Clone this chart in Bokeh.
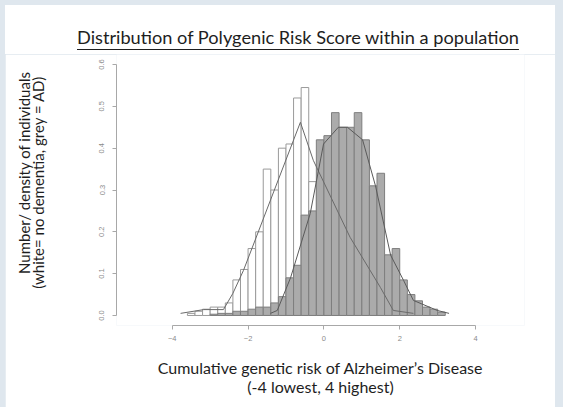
from bokeh.plotting import figure
from bokeh.layouts import column
from bokeh.models import Range1d, FixedTicker, Div
from bokeh.embed import file_html
from bokeh.resources import INLINE

# ---------------- data ----------------
bin_width = 0.2

# no dementia (white histogram): left bin edges and densities
white_left = [-3.6, -3.4, -3.2, -3.0, -2.8, -2.6, -2.4, -2.2, -2.0, -1.8,
              -1.6, -1.4, -1.2, -1.0, -0.8, -0.6, -0.4, -0.2, 0.0, 0.2,
              0.4, 0.6, 0.8, 1.0, 1.2, 1.4, 1.6, 1.8, 2.0, 2.2]
white_density = [0.005, 0.01, 0.015, 0.02, 0.02, 0.03, 0.085, 0.11, 0.16, 0.20,
                 0.35, 0.30, 0.40, 0.41, 0.52, 0.545, 0.32, 0.25, 0.24, 0.20,
                 0.17, 0.14, 0.10, 0.08, 0.05, 0.04, 0.025, 0.015, 0.01, 0.005]

# AD (grey histogram)
grey_left = [-3.0, -2.8, -2.6, -2.4, -2.2, -2.0, -1.8, -1.6, -1.4, -1.2,
             -1.0, -0.8, -0.6, -0.4, -0.2, 0.0, 0.2, 0.4, 0.6, 0.8,
             1.0, 1.2, 1.4, 1.6, 1.8, 2.0, 2.2, 2.4, 2.6, 2.8, 3.0]
grey_density = [0.003, 0.005, 0.005, 0.01, 0.01, 0.015, 0.02, 0.02, 0.03, 0.045,
                0.09, 0.12, 0.24, 0.25, 0.42, 0.43, 0.485, 0.45, 0.45, 0.485,
                0.42, 0.31, 0.34, 0.145, 0.16, 0.085, 0.05, 0.035, 0.02, 0.015, 0.008]

# density curves (polylines)
white_curve_x = [-3.78, -3.17, -2.65, -2.4, -2.12, -0.62, -0.28, 0.69, 1.49, 1.83, 2.36]
white_curve_y = [0.005, 0.014, 0.014, 0.053, 0.108, 0.462, 0.371, 0.187, 0.067, 0.012, 0.005]
grey_curve_x = [-1.41, -1.23, -0.88, -0.36, -0.01, 0.38, 0.62, 1.02, 1.36, 1.76, 2.1, 2.36, 2.99, 3.3]
grey_curve_y = [0.005, 0.012, 0.09, 0.244, 0.41, 0.45, 0.45, 0.42, 0.31, 0.144, 0.084, 0.036, 0.012, 0.005]

x_ticks = [-4, -2, 0, 2, 4]
y_ticks = [0.0, 0.1, 0.2, 0.3, 0.4, 0.5, 0.6]
y_tick_labels = {0.0: "0.0", 0.1: "0.1", 0.2: "0.2", 0.3: "0.3", 0.4: "0.4", 0.5: "0.5", 0.6: "0.6"}

title_text = "Distribution of Polygenic Risk Score within a population"
x_label = "Cumulative genetic risk of Alzheimer\u2019s Disease\n(-4 lowest, 4 highest)"
y_label_lines = ["Number/ density of individuals", "(white= no dementia, grey = AD)"]

FONT = "Lato"
TEXT = "#1e1e1e"
W = 550
NB = "\u00a0"

title = Div(
    text=('<div style="padding:22px 0 0 72px;white-space:nowrap;font-family:Lato;'
          'font-size:18.2px;line-height:20px;color:%s;">'
          '<span style="text-decoration:underline;text-decoration-thickness:1px;'
          'text-underline-offset:5px;">%s</span></div>') % (TEXT, title_text),
    width=W, height=49, margin=0,
    styles={"background-color": "white"})

p = figure(width=W, height=353, output_backend="svg", toolbar_location=None,
           x_range=Range1d(-5.47, 5.29), y_range=Range1d(-0.024, 0.624),
           min_border_left=111, min_border_right=31, min_border_top=0, min_border_bottom=82,
           margin=0)
p.outline_line_color = None
p.grid.visible = False
p.background_fill_color = "white"
p.border_fill_color = "white"

white_right = [l + bin_width for l in white_left]
grey_right = [l + bin_width for l in grey_left]

p.quad(left=white_left, right=white_right, bottom=0, top=white_density,
       fill_color="white", line_color="#9a9a9a", line_width=1)
p.quad(left=grey_left, right=grey_right, bottom=0, top=grey_density,
       fill_color="#ababab", line_color="#7e7e7e", line_width=1)
p.line(white_curve_x, white_curve_y, line_color="#6a6a6a", line_width=1)
p.line(grey_curve_x, grey_curve_y, line_color="#5a5a5a", line_width=1)

# axes
for ax in (p.xaxis[0], p.yaxis[0]):
    ax.axis_line_color = "#a8a8a8"
    ax.major_tick_line_color = "#a8a8a8"
    ax.minor_tick_line_color = None
    ax.major_tick_out = 4
    ax.major_tick_in = 0
    ax.major_label_text_color = "#8a8a8a"
    ax.major_label_text_font = "Liberation Sans"
    ax.major_label_text_font_size = "7.5px"
    ax.axis_label_text_font = FONT
    ax.axis_label_text_font_style = "normal"
    ax.axis_label_text_color = TEXT

p.xaxis.ticker = FixedTicker(ticks=x_ticks)
p.xaxis.bounds = (x_ticks[0], x_ticks[-1])
p.xaxis.major_label_standoff = 6
p.xaxis.axis_label = x_label
p.xaxis.axis_label_text_font_size = "16px"
p.xaxis.axis_label_text_line_height = 1.02
p.xaxis.axis_label_standoff = 14

p.yaxis.ticker = FixedTicker(ticks=y_ticks)
p.yaxis.bounds = (y_ticks[0], y_ticks[-1])
p.yaxis.major_label_overrides = y_tick_labels
p.yaxis.major_label_orientation = "vertical"
p.yaxis.major_label_standoff = 8
# leading no-break spaces shift each (rotated) line upward as in the original
p.yaxis.axis_label = NB * 9 + y_label_lines[0] + "\n" + NB * 4 + y_label_lines[1]
p.yaxis.axis_label_text_font_size = "15px"
p.yaxis.axis_label_text_line_height = 0.77
p.yaxis.axis_label_standoff = 50

layout = column(title, p, spacing=0, margin=0)

html = file_html(layout, INLINE)
html = html.replace(
    "</head>",
    "<style>html,body{background:#dfe7ee !important;overflow:hidden !important;}"
    "body{padding:5px 0 0 5px !important;margin:0 !important;}</style></head>", 1)
open("out.html", "w").write(html)
